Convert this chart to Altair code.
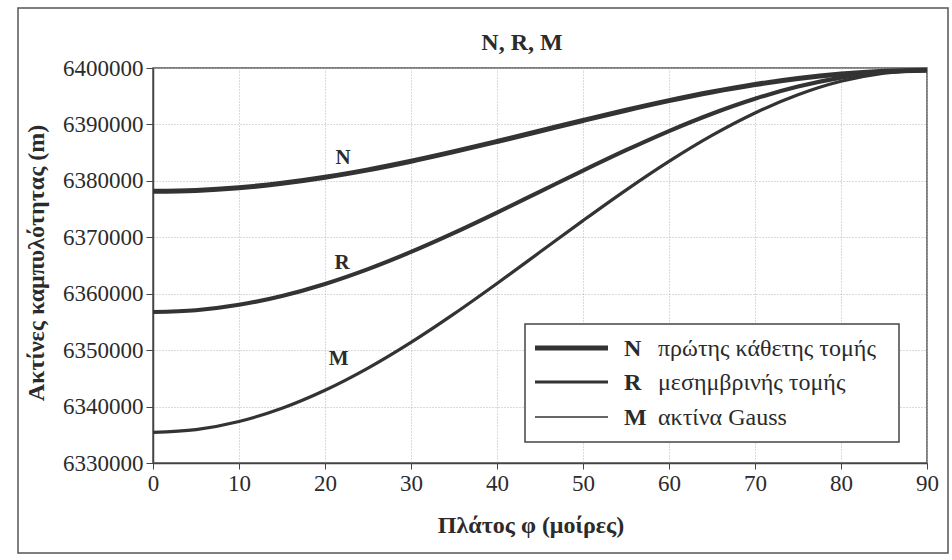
import altair as alt
import pandas as pd

# ---- data ----
lat = [0, 5, 10, 15, 20, 25, 30, 35, 40, 45, 50, 55, 60, 65, 70, 75, 80, 85, 90]
N_vals = [6378137, 6378299, 6378781, 6379568, 6380636, 6381953, 6383481, 6385172,
          6386976, 6388838, 6390702, 6392511, 6394209, 6395746, 6397073, 6398150,
          6398943, 6399430, 6399594]
R_vals = [6356752, 6357075, 6358036, 6359604, 6361734, 6364362, 6367409, 6370783,
          6374383, 6378101, 6381823, 6385435, 6388829, 6391899, 6394552, 6396706,
          6398293, 6399266, 6399594]
M_vals = [6335439, 6335923, 6337358, 6339703, 6342888, 6346818, 6351377, 6356427,
          6361816, 6367382, 6372956, 6378369, 6383454, 6388056, 6392033, 6395263,
          6397644, 6399103, 6399594]

series_names = ["N", "R", "M"]
series_desc = ["πρώτης κάθετης τομής", "μεσημβρινής τομής", "ακτίνα Gauss"]
x_ticks = [0, 10, 20, 30, 40, 50, 60, 70, 80, 90]
y_ticks = [6330000, 6340000, 6350000, 6360000, 6370000, 6380000, 6390000, 6400000]

title_text = "N, R, M"
x_title = "Πλάτος φ (μοίρες)"
y_title = "Ακτίνες καμπυλότητας (m)"

# curve annotation positions (data units)
ann_x = [22.1, 22.0, 21.6]
ann_y = [6383000, 6364300, 6347300]

FONT = "Times New Roman, Liberation Serif, DejaVu Serif, serif"
INK = "#2b2b2b"
W, H = 774, 395

rows = []
for name, vals in zip(series_names, [N_vals, R_vals, M_vals]):
    for x, y in zip(lat, vals):
        rows.append({"series": name, "lat": x, "r": y})
df = pd.DataFrame(rows)

xscale = alt.Scale(domain=[0, 90], nice=False, zero=False)
yscale = alt.Scale(domain=[6330000, 6400000], nice=False, zero=False)
widths = alt.Scale(domain=series_names, range=[5, 3.2, 1.3])

lines = alt.Chart(df).mark_line(interpolate="monotone", color="#333333").encode(
    x=alt.X("lat:Q", scale=xscale,
            axis=alt.Axis(values=x_ticks, title=None, labelFont=FONT, labelFontSize=23,
                          labelColor=INK, tickColor="#444", tickSize=6, labelPadding=3,
                          domainColor="#444", domainWidth=1.5, gridColor="#b5b5b5",
                          gridDash=[1, 2], gridWidth=1, labelFlush=False)),
    y=alt.Y("r:Q", scale=yscale,
            axis=alt.Axis(values=y_ticks, title=None, format="d", labelFont=FONT,
                          labelFontSize=23, labelColor=INK, tickColor="#444", tickSize=7,
                          labelPadding=3, domainColor="#444", domainWidth=1.5,
                          gridColor="#b5b5b5", gridDash=[1, 2], gridWidth=1)),
    detail="series:N",
    strokeWidth=alt.StrokeWidth("series:N", scale=widths, legend=None),
)

ann = alt.Chart(pd.DataFrame({"t": series_names, "x": ann_x, "y": ann_y})).mark_text(
    font=FONT, fontSize=21, fontWeight="bold", color=INK, align="center", baseline="alphabetic"
).encode(x=alt.X("x:Q", scale=xscale), y=alt.Y("y:Q", scale=yscale), text="t:N")

one = pd.DataFrame({"a": [0]})

def txt(text, x, y, size, bold=True, align="center", angle=0, baseline="alphabetic"):
    kw = dict(font=FONT, fontSize=size, color=INK, align=align, baseline=baseline)
    if bold:
        kw["fontWeight"] = "bold"
    if angle:
        kw["angle"] = angle
    return alt.Chart(one).mark_text(**kw).encode(
        x=alt.value(x), y=alt.value(y), text=alt.value(text))

title = txt(title_text, 369, -18, 24)
xt = txt(x_title, 378, 465, 24)
yt = txt(y_title, -116, 195, 24, angle=270, baseline="middle")

frame = alt.Chart(one).mark_rect(fill=None, stroke="#555555", strokeWidth=1.5).encode(
    x=alt.value(-135), x2=alt.value(795), y=alt.value(-60), y2=alt.value(485))

# legend
leg_box = alt.Chart(one).mark_rect(fill="white", stroke="#444444", strokeWidth=1.5).encode(
    x=alt.value(372), x2=alt.value(746), y=alt.value(256), y2=alt.value(374))
leg_rows_y = [280, 314, 349]
leg_w = [5, 3.2, 1.3]
leg_layers = [leg_box]
for name, desc, yy, sw in zip(series_names, series_desc, leg_rows_y, leg_w):
    leg_layers.append(alt.Chart(one).mark_rule(color="#333333", strokeWidth=sw).encode(
        x=alt.value(382), x2=alt.value(455), y=alt.value(yy)))
    leg_layers.append(txt(name, 471, yy + 1, 24, align="left", baseline="middle"))
    leg_layers.append(txt(desc, 505, yy + 1, 24, bold=False, align="left", baseline="middle"))

chart = alt.layer(frame, lines, ann, title, xt, yt, *leg_layers).properties(
    width=W, height=H,
    autosize=alt.AutoSizeParams(type="none"),
    padding={"left": 153, "top": 68, "right": 25, "bottom": 97},
    background="white",
).configure_view(stroke="#555555", strokeWidth=1.5)

chart.save("out.html", embed_options={"renderer": "svg", "actions": False})
